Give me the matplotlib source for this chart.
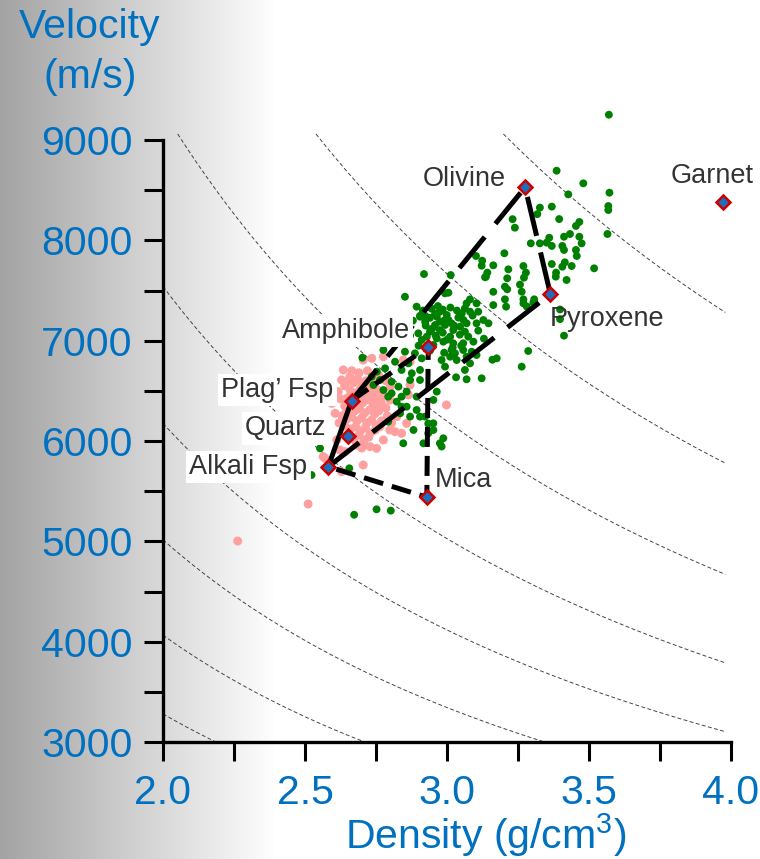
import numpy as np
import matplotlib
matplotlib.use("Agg")
import matplotlib.pyplot as plt

plt.rcParams['font.family'] = ['Liberation Sans', 'DejaVu Sans']
plt.rcParams['mathtext.fontset'] = 'custom'
plt.rcParams['mathtext.rm'] = 'Liberation Sans'
plt.rcParams['mathtext.it'] = 'Liberation Sans'
plt.rcParams['mathtext.bf'] = 'Liberation Sans'

# ---------------- data ----------------
mineral_names = ['Olivine', 'Garnet', 'Pyroxene', 'Amphibole', 'Plag\u2019 Fsp', 'Quartz', 'Alkali Fsp', 'Mica']
mineral_rho = [3.275, 3.973, 3.364, 2.934, 2.664, 2.650, 2.582, 2.929]
mineral_vel = [8529, 8385, 7465, 6940, 6402, 6050, 5744, 5440]

# label anchor positions (data coords) and alignment
label_rho = [3.206, 3.933, 3.363, 2.870, 2.600, 2.576, 2.509, 2.958]
label_vel = [8611, 8645, 7216, 7100, 6510, 6125, 5740, 5611]
label_ha = ['right', 'center', 'left', 'right', 'right', 'right', 'right', 'left']
label_box = [False, False, False, True, True, True, True, False]

# acoustic impedance iso-lines (rho * V, in 1e3 units)
impedance_levels = [6560, 8130, 10030, 12350, 15080, 18590, 23000, 28980]

green_rho = [3.570, 3.386, 3.480, 3.427, 3.572, 3.568, 3.568, 3.565,
             3.327, 3.369, 3.318, 3.231, 3.239, 3.395, 3.454, 3.466,
             3.433, 3.412, 3.466, 3.474, 3.360, 3.351, 3.369, 3.295, 3.327,
             3.406, 3.412, 3.454, 3.457, 3.202,
             3.102, 3.124, 3.122, 3.163, 3.142, 3.134,
             3.216, 3.212, 3.204, 3.212, 3.263,
             3.269, 3.278, 3.271, 3.369, 3.406, 3.384, 3.383, 3.439, 3.415, 3.421, 3.518,
             2.919, 3.013, 2.993, 3.005, 2.852,
             3.081, 3.204, 3.269, 3.307,
             3.137, 3.269, 3.281, 3.163, 3.208,
             3.069, 3.063, 3.081, 3.104, 3.110,
             2.893, 2.905, 2.923, 2.975, 2.964, 2.999, 3.005, 3.016, 2.993, 3.022,
             3.052, 3.058, 3.069, 3.046, 3.063, 3.075, 3.104, 3.128, 3.146,
             2.958, 2.975, 2.940, 2.929, 2.964, 2.987, 2.952, 2.911,
             3.011, 3.022, 3.016, 3.028, 3.011, 3.034, 3.057, 3.093, 3.057, 3.087, 3.069, 3.104, 3.081, 3.063,
             3.175, 3.160, 3.263, 3.122, 3.069, 3.032, 2.993, 2.981,
             2.852, 2.817, 2.864, 2.840, 2.876, 2.905, 2.870, 2.905, 2.887, 2.911, 2.858, 2.829, 2.805, 2.793, 2.840, 2.893, 2.952, 2.964,
             2.776, 2.782, 2.753, 2.735, 2.764, 2.741, 2.776, 2.805, 2.823, 2.840, 2.835, 2.858, 2.870, 2.893, 2.905, 2.923, 2.952, 2.952, 2.934, 2.987, 2.975, 2.917, 2.846, 2.882, 2.793,
             2.702, 2.899,
             2.673, 2.752, 2.802,
             2.553, 2.656, 2.523,
             2.934, 2.981,
             3.286, 3.398, 3.412, 3.398,
             2.923, 2.940, 2.905, 3.163, 3.257, 3.304,
             2.945, 2.968, 2.985, 3.012, 3.035, 2.958, 2.990, 3.040, 2.975, 3.025,
             2.948, 2.985, 3.045, 3.000, 2.925, 2.960, 3.020, 2.940, 2.990, 3.050,
             2.915, 2.880, 2.870, 2.900, 3.090, 3.110, 3.130]
green_vel = [9252, 8694, 8568, 8458, 8475, 8342, 8302, 8063,
             8326, 8336, 8261, 8211, 8126, 8212, 8143, 8183,
             8063, 8036, 8036, 7970, 8026, 7977, 7944, 7970, 7970,
             7944, 7904, 7904, 7844, 7871,
             7844, 7797, 7747, 7751, 7678, 7632,
             7711, 7622, 7538, 7512, 7488,
             7744, 7678, 7628, 7764, 7737, 7678, 7638, 7744, 7781, 7605, 7721,
             7664, 7654, 7472, 7478, 7438,
             7412, 7412, 7412, 7412,
             7638, 7372, 7340, 7355, 7339,
             7372, 7322, 7289, 7372, 7289,
             7339, 7239, 7189, 7289, 7239, 7256, 7206, 7173, 7156, 7106,
             7272, 7206, 7173, 7139, 7090, 7040, 7173, 7206, 7173,
             7156, 7106, 7090, 7040, 7023, 6990, 6957, 7007,
             7040, 6974, 6907, 6874, 6840, 6807, 6974, 6990, 6907, 6890, 6840, 6857, 6774, 6708,
             6824, 6810, 6741, 6625, 6615, 6635, 6741, 6807,
             6890, 6790, 6774, 6708, 6675, 6608, 6608, 6708, 6874, 6824, 6492, 6542, 6591, 6442, 6442, 6442, 6409, 6492,
             6907, 6724, 6691, 6641, 6608, 6558, 6508, 6475, 6392, 6342, 6276, 6342, 6243, 6309, 6243, 6243, 6176, 6110, 6077, 6027, 5977, 5977, 5977, 6110, 6193,
             6830, 7073,
             5265, 5319, 5306,
             5927, 5728, 5661,
             6173, 5945,
             6897, 7215, 7050, 7311,
             7248, 7228, 7248, 7487, 7559, 7380,
             7320, 7345, 7310, 7330, 7300, 7270, 7200, 7230, 7190, 7150,
             7120, 7080, 7060, 7010, 7150, 7050, 6930, 6900, 6880, 6950,
             7300, 7200, 7050, 6950, 7250, 7100, 7020]

pink_rho = [2.263, 2.511, 2.570, 2.629, 2.564, 2.705, 2.998,
            2.705, 2.776, 2.846, 2.870, 2.735,
            2.635, 2.658, 2.629, 2.617,
            2.741, 2.764, 2.776, 2.799, 2.823, 2.858, 2.799, 2.776, 2.752, 2.729, 2.705,
            2.623, 2.641, 2.612, 2.647, 2.606, 2.594,
            2.870, 2.864, 2.817, 2.840, 2.764, 2.770,
            2.640, 2.655, 2.670, 2.685, 2.700, 2.715, 2.730, 2.745, 2.660, 2.680,
            2.695, 2.710, 2.725, 2.740, 2.755, 2.650, 2.668, 2.688, 2.703, 2.720,
            2.738, 2.752, 2.768, 2.640, 2.658, 2.675, 2.692, 2.710, 2.728, 2.745,
            2.760, 2.785, 2.630, 2.648, 2.665, 2.683, 2.700, 2.718, 2.735, 2.750,
            2.770, 2.640, 2.660, 2.678, 2.695, 2.712, 2.730, 2.748, 2.655, 2.672,
            2.690, 2.708, 2.725, 2.680, 2.700, 2.620, 2.625, 2.790, 2.805, 2.800,
            2.690, 2.720, 2.665, 2.760, 2.785]
pink_vel = [5003, 5372, 5828, 5694, 5844, 5761, 6359,
            6807, 6840, 6807, 6790, 6824,
            6708, 6641, 6608, 6492,
            6342, 6409, 6475, 6409, 6243, 6176, 6110, 6010, 5927, 5944, 5977,
            5910, 5894, 6010, 6309, 6276, 6375,
            6558, 6459, 6093, 6077, 6143, 6442,
            6550, 6600, 6580, 6620, 6560, 6600, 6540, 6580, 6500, 6480,
            6520, 6470, 6500, 6460, 6510, 6430, 6400, 6420, 6380, 6410,
            6390, 6360, 6380, 6350, 6330, 6300, 6320, 6280, 6310, 6270,
            6300, 6330, 6250, 6220, 6240, 6200, 6230, 6180, 6210, 6160,
            6200, 6150, 6120, 6140, 6100, 6130, 6080, 6110, 6050, 6020,
            6060, 6010, 6040, 5960, 5930, 6180, 6420, 6250, 6180, 6540,
            6680, 6700, 6700, 6650, 6600]

x_ticks = [2.0, 2.5, 3.0, 3.5, 4.0]
x_ticklabels = ['2.0', '2.5', '3.0', '3.5', '4.0']
y_ticks = [3000, 4000, 5000, 6000, 7000, 8000, 9000]
y_ticklabels = ['3000', '4000', '5000', '6000', '7000', '8000', '9000']

# ---------------- figure ----------------
W, H = 760, 859
fig = plt.figure(figsize=(W / 100, H / 100), dpi=100)

# background gradient (gray -> white, left to right)
bg = fig.add_axes([0, 0, 1, 1], zorder=-10)
xs = np.arange(W)
g = np.clip(0.64 + 0.36 * xs / 275.0, 0, 1)
img = np.tile(g, (2, 1))
bg.imshow(np.dstack([img, img, img]), aspect='auto', extent=[0, 1, 0, 1])
bg.set_axis_off()

ax = fig.add_axes([163 / W, 1 - 742 / H, (731 - 163) / W, (742 - 140) / H])
ax.set_facecolor('none')
ax.set_xlim(2.0, 4.0)
ax.set_ylim(3000, 9000)

blue = '#0070C0'
# impedance iso-lines
for z in impedance_levels:
    r0 = max(2.0, z / 9060.0)
    r1 = min(3.98, z / 3000.0)
    rr = np.linspace(r0, r1, 300)
    ax.plot(rr, z / rr, color='#444444', lw=0.7, dashes=(4, 2.5), zorder=1, clip_on=False)

ax.scatter(pink_rho, pink_vel, s=42, color='#FFA0A0', edgecolors='none', zorder=2, clip_on=False)
ax.scatter(green_rho, green_vel, s=32, color='#008000', edgecolors='none', zorder=3, clip_on=False)

idx = {n: i for i, n in enumerate(mineral_names)}
def pt(name):
    i = idx[name]
    return mineral_rho[i], mineral_vel[i]

lw = 3.6
# polygon 1: Plag -> Olivine -> Pyroxene -> Alkali (long dashes)
p1 = [pt('Plag\u2019 Fsp'), pt('Olivine'), pt('Pyroxene'), pt('Alkali Fsp')]
ax.plot([p[0] for p in p1], [p[1] for p in p1], color='black', lw=lw, dashes=(8, 3.4), zorder=4)
# shared side Plag -> Alkali (solid)
p0 = [pt('Plag\u2019 Fsp'), pt('Alkali Fsp')]
ax.plot([p[0] for p in p0], [p[1] for p in p0], color='black', lw=lw, zorder=4)
# polygon 2: Plag -> Amphibole -> Mica -> Alkali (short dashes)
p2 = [pt('Plag\u2019 Fsp'), pt('Amphibole'), pt('Mica'), pt('Alkali Fsp')]
ax.plot([p[0] for p in p2], [p[1] for p in p2], color='black', lw=lw, dashes=(4, 1.8), zorder=4)

ax.plot(mineral_rho, mineral_vel, linestyle='none', marker='D', markersize=7,
        markerfacecolor='#1E6EBE', markeredgecolor='#CC0000', markeredgewidth=1.8, zorder=5, clip_on=False)

for n, lr, lv, ha, box in zip(mineral_names, label_rho, label_vel, label_ha, label_box):
    kw = {}
    if box:
        kw['bbox'] = dict(boxstyle='square,pad=0.12', fc='white', ec='none')
    ax.text(lr, lv, n, ha=ha, va='center', fontsize=19.5, color='#333333', zorder=6, clip_on=False, **kw)

# axes styling
for s in ['top', 'right']:
    ax.spines[s].set_visible(False)
for s in ['left', 'bottom']:
    ax.spines[s].set_linewidth(2.4)
ax.set_xticks(x_ticks)
ax.set_xticklabels(x_ticklabels)
ax.set_xticks([2.25, 2.75, 3.25, 3.75], minor=True)
ax.set_yticks(y_ticks)
ax.set_yticklabels(y_ticklabels)
ax.set_yticks([3500, 4500, 5500, 6500, 7500, 8500], minor=True)
ax.tick_params(which='both', direction='out', length=13.7, width=2.2, color='black')
ax.tick_params(axis='x', which='major', labelsize=29.5, labelcolor=blue, pad=9)
ax.tick_params(axis='y', which='major', labelsize=29.5, labelcolor=blue, pad=8)

fig.text(90 / W, 1 - 27 / H, 'Velocity', ha='center', va='center', fontsize=29.5, color=blue)
fig.text(90 / W, 1 - 77 / H, '(m/s)', ha='center', va='center', fontsize=29.5, color=blue)
fig.text(486 / W, 1 - 835 / H, 'Density (g/cm$^{\\mathrm{3}}$)', ha='center', va='center', fontsize=29.5, color=blue)

fig.savefig('out.png', dpi=100)
